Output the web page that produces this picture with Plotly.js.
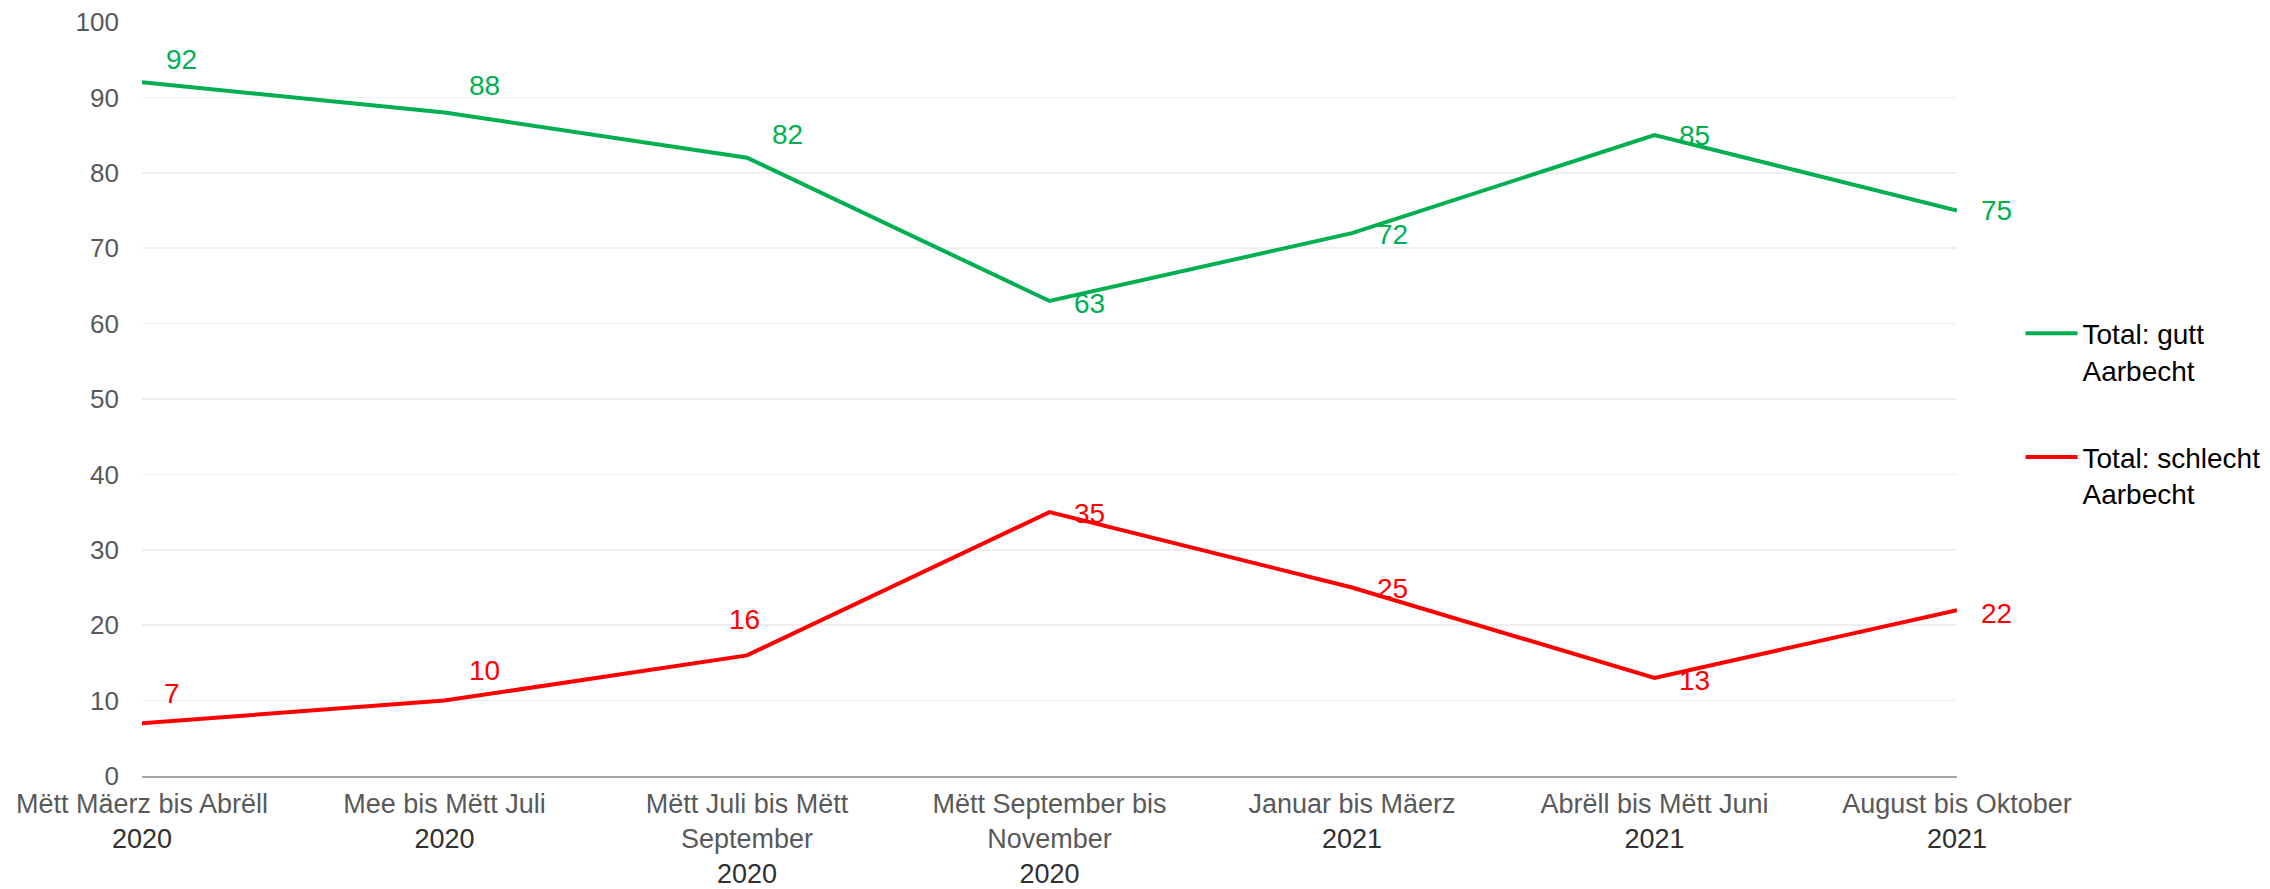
<!DOCTYPE html>
<html>
<head>
<meta charset="utf-8">
<script src="https://cdn.plot.ly/plotly-3.0.1.min.js"></script>
<style>html,body{margin:0;padding:0;background:#fff}#chart{width:2270px;height:889px}</style>
</head>
<body>
<div id="chart"></div>
<script>
// ---- data ----
var categories = ["Mëtt Mäerz bis Abrëll", "Mee bis Mëtt Juli", "Mëtt Juli bis Mëtt<br>September", "Mëtt September bis<br>November", "Januar bis Mäerz", "Abrëll bis Mëtt Juni", "August bis Oktober"];
var years = ["2020", "2020", "2020", "2020", "2021", "2021", "2021"];
var guttValues = [92, 88, 82, 63, 72, 85, 75];
var schlechtValues = [7, 10, 16, 35, 25, 13, 22];
var seriesNames = ["Total: gutt<br>Aarbecht", "Total: schlecht<br>Aarbecht"];
var yTicks = [0, 10, 20, 30, 40, 50, 60, 70, 80, 90, 100];

// ---- label offsets (layout, pixels) ----
var guttShiftX = [39, 40, 40, 40, 40, 40, 39];
var guttShiftY = [23, 27, 23, -3, -1, 0, 0];
var schlechtShiftX = [30, 40, -3, 40, 40, 40, 39];
var schlechtShiftY = [30, 30, 36, -1, -1, -3, -3];

var GREEN = "#00B050", RED = "#FF0000";
var FONT = "Liberation Sans, Arial, sans-serif";

var tickText = categories.map(function (c, i) {
  return '<span style="color:#595959">' + c + '</span><br><span style="color:#303030">' + years[i] + '</span>';
});

var traces = [
  {x: categories, y: guttValues, name: seriesNames[0], type: "scatter", mode: "lines",
   line: {color: GREEN, width: 4}, legendgroup: "g", hoverinfo: "skip"},
  {x: categories, y: schlechtValues, name: seriesNames[1], type: "scatter", mode: "lines",
   line: {color: RED, width: 4}, legendgroup: "s", hoverinfo: "skip"}
];

var annotations = [];
categories.forEach(function (c, i) {
  annotations.push({x: c, y: guttValues[i], text: String(guttValues[i]), showarrow: false,
    xanchor: "center", yanchor: "middle", xshift: guttShiftX[i], yshift: guttShiftY[i],
    font: {family: FONT, size: 28, color: GREEN}});
  annotations.push({x: c, y: schlechtValues[i], text: String(schlechtValues[i]), showarrow: false,
    xanchor: "center", yanchor: "middle", xshift: schlechtShiftX[i], yshift: schlechtShiftY[i],
    font: {family: FONT, size: 28, color: RED}});
});

var layout = {
  width: 2270, height: 889,
  margin: {l: 142, r: 313, t: 22, b: 113, pad: 0, autoexpand: false},
  paper_bgcolor: "#fff", plot_bgcolor: "#fff",
  font: {family: FONT, size: 26, color: "#595959"},
  showlegend: true,
  legend: {x: 1.035, xanchor: "left", y: 0.62, yanchor: "top", valign: "top",
    font: {family: FONT, size: 28, color: "#000"}, tracegroupgap: 48, itemwidth: 52,
    bgcolor: "rgba(0,0,0,0)"},
  xaxis: {type: "category", range: [0, 6], tickvals: categories, ticktext: tickText,
    showgrid: false, zeroline: false, showline: true, linecolor: "#A6A6A6", linewidth: 1.5,
    ticks: "", ticklabelstandoff: 3, tickfont: {family: FONT, size: 27, color: "#595959"},
    automargin: false, fixedrange: true},
  yaxis: {range: [0, 100], tickvals: yTicks, showgrid: true, gridcolor: "#EFEFEF", gridwidth: 1.5,
    zeroline: false, showline: false, ticks: "", ticklabelstandoff: 22,
    tickfont: {family: FONT, size: 26, color: "#595959"}, automargin: false, fixedrange: true},
  annotations: annotations
};

Plotly.newPlot("chart", traces, layout, {displayModeBar: false, staticPlot: true});
</script>
</body>
</html>
